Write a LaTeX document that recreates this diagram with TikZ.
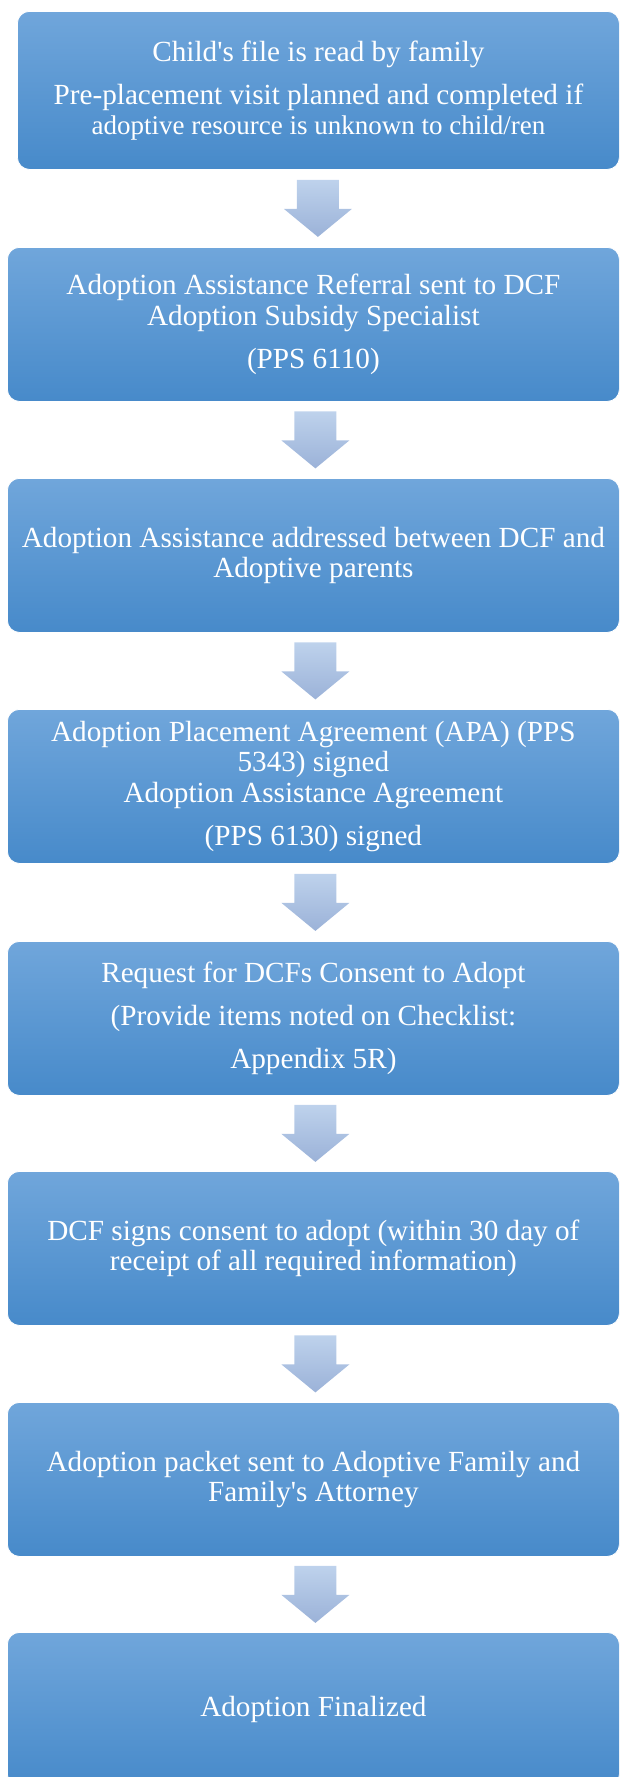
\documentclass[tikz,border=0pt]{standalone}
\usepackage{fontspec}
\setmainfont{Liberation Serif}
\usetikzlibrary{calc}
\definecolor{boxtop}{HTML}{70A6DB}
\definecolor{boxmid}{HTML}{5699D8}
\definecolor{boxbot}{HTML}{478ACA}
\definecolor{arrtop}{HTML}{BED2EC}
\definecolor{arrbot}{HTML}{9BB2D8}
\newcommand\stagefont{\fontsize{21.9}{22.9}\selectfont}
\newcommand\smallstagefont{\fontsize{20.25}{21}\selectfont}

\begin{document}
\begin{tikzpicture}[x=0.75pt,y=-0.75pt,
  stage/.style={anchor=north west,draw=white,line width=0.6pt,rounded corners=9pt,
    top color=boxtop,middle color=boxmid,bottom color=boxbot,
    minimum width=459pt,minimum height=115.5pt,inner sep=0pt,
    text=white,align=center,font=\stagefont},
  blockarrow/.style={top color=arrtop,bottom color=arrbot}]
\useasboundingbox (0,0) rectangle (619,1777);
\clip (0,0) rectangle (619,1777);
% the stages, top to bottom
\node[stage,minimum width=451.5pt,minimum height=118.5pt] (s1) at (17,11)
  {Child\textquotesingle s file is read by family\\[9.4pt]Pre-placement visit planned and completed if\\{\smallstagefont adoptive resource is unknown to child/ren}};
\node[stage] (s2) at (7,247) {Adoption Assistance Referral sent to DCF\\Adoption Subsidy Specialist\\[9.4pt](PPS 6110)};
\node[stage] (s3) at (7,478) {Adoption Assistance addressed between DCF and\\Adoptive parents};
\node[stage] (s4) at (7,709) {Adoption Placement Agreement (APA) (PPS\\5343) signed\\Adoption Assistance Agreement\\[9.4pt](PPS 6130) signed};
\node[stage] (s5) at (7,941) {Request for DCFs Consent to Adopt\\[9.4pt](Provide items noted on Checklist:\\[9.4pt]Appendix 5R)};
\node[stage] (s6) at (7,1171) {DCF signs consent to adopt (within 30 day of\\receipt of all required information)};
\node[stage] (s7) at (7,1402) {Adoption packet sent to Adoptive Family and\\Family\textquotesingle s Attorney};
\node[stage] (s8) at (7,1632) {Adoption Finalized};
% block arrows between stages
\foreach \a/\b in {s1/s2,s2/s3,s3/s4,s4/s5,s5/s6,s6/s7,s7/s8}
  \shade[blockarrow] ($(\a.south)!0.5!(\b.north)$) ++(-19,-28.5) -- ++(42,0) -- ++(0,29)
    -- ++(13,0) -- ++(-34,28) -- ++(-34,-28) -- ++(13,0) -- cycle;
\end{tikzpicture}
\end{document}
